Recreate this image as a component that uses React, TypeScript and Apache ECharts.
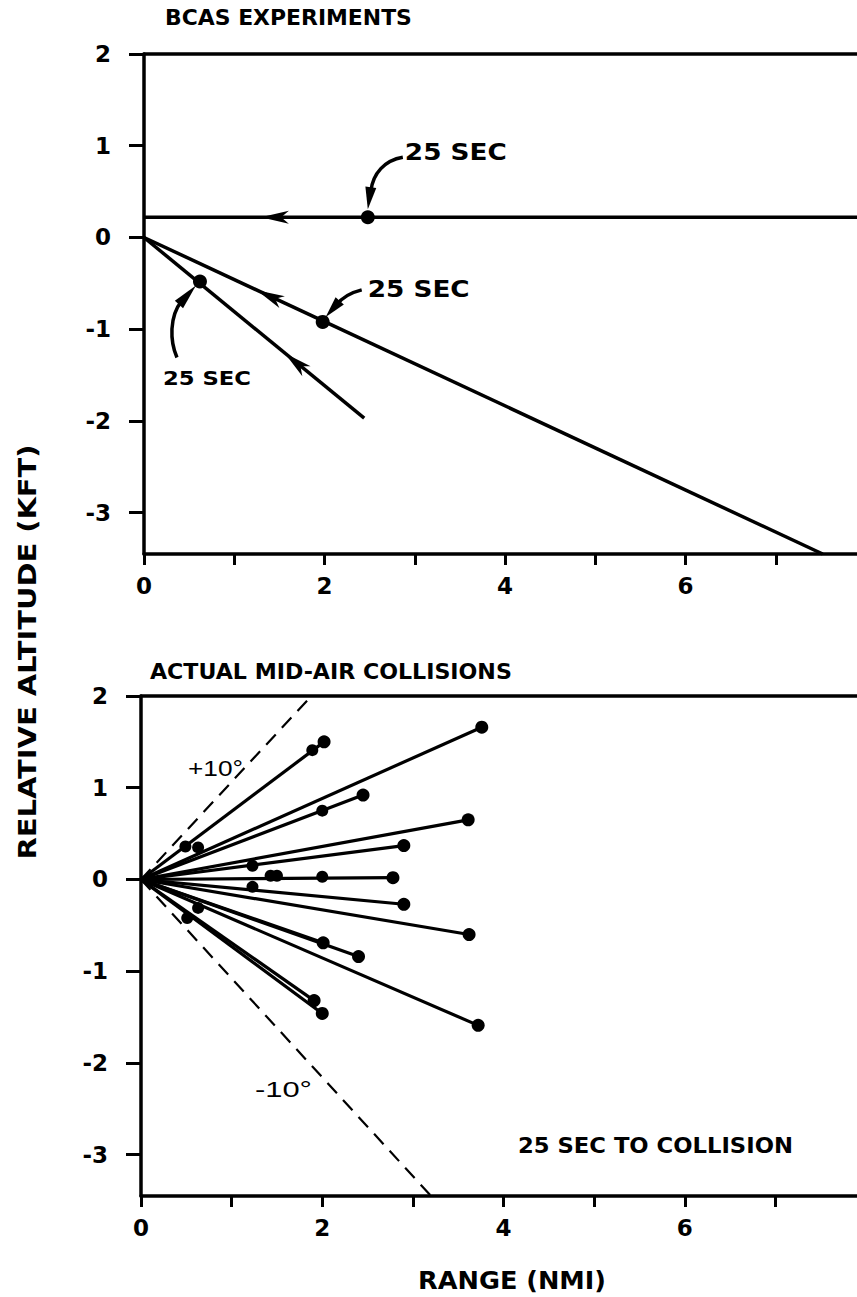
import React, { useEffect, useRef } from "react";
import * as echarts from "echarts";

// ---------- axes ----------
const xTickValues = [0, 1, 2, 3, 4, 5, 6, 7];
const xLabelValues = [0, 2, 4, 6];
const yTickValues = [2, 1, 0, -1, -2, -3];
const xMax = 7.9;
const yMin = -3.45;
const yMax = 2;

// ---------- BCAS EXPERIMENTS (top panel) ----------
const levelTrack = [[7.9, 0.22], [0, 0.22]];
const shallowTrack = [[7.52, -3.45], [0, 0]];
const steepTrack = [[2.44, -1.97], [0, 0]];
const bcasDots = [[2.48, 0.22], [1.98, -0.92], [0.62, -0.48]];
const bcasArrowAt = [[1.45, 0.22], [1.39, -0.64], [1.68, -1.36]];
const bcasArrowToward = [[0, 0.22], [0, 0], [0, 0]];
const calloutText = ["25 SEC", "25 SEC", "25 SEC"];

// ---------- ACTUAL MID-AIR COLLISIONS (bottom panel) ----------
const collisionEnds = [
  [3.76, 1.66],
  [2.02, 1.5],
  [2.45, 0.92],
  [3.61, 0.65],
  [2.9, 0.37],
  [2.78, 0.02],
  [2.9, -0.27],
  [3.62, -0.6],
  [2.01, -0.69],
  [2.4, -0.84],
  [3.72, -1.59],
  [1.91, -1.32],
  [2.0, -1.46],
];
const collisionMidDots = [
  [1.89, 1.41],
  [2.0, 0.75],
  [1.23, 0.15],
  [2.0, 0.03],
  [1.43, 0.04],
  [1.5, 0.04],
  [1.23, -0.08],
  [0.49, 0.36],
  [0.63, 0.35],
  [0.63, -0.31],
  [0.51, -0.42],
];
const plus10Line = [[0, 0], [1.88, 2]];
const minus10Line = [[0, 0], [3.2, -3.45]];

const BOLD = "DejaVu Sans";
const THIN = "Liberation Sans";

let measureCtx: CanvasRenderingContext2D | null = null;
function measure(text: string, size: number, weight: string, family: string) {
  if (!measureCtx) measureCtx = document.createElement("canvas").getContext("2d");
  measureCtx!.font = `${weight} ${size}px "${family}"`;
  return measureCtx!.measureText(text).width;
}

function stext(
  text: string,
  x: number,
  y: number,
  width: number,
  size: number,
  weight = "bold",
  family = BOLD,
  align = "left",
  rotation = 0
) {
  const w = measure(text, size, weight, family);
  return {
    type: "text",
    x,
    y,
    rotation,
    scaleX: width / w,
    z: 20,
    silent: true,
    style: {
      text,
      fill: "#000",
      fontSize: size,
      fontWeight: weight,
      fontFamily: family,
      align,
      verticalAlign: "middle",
    },
  };
}

function xAxisDef(gridIndex: number) {
  return [
    {
      gridIndex,
      type: "value",
      min: 0,
      max: xMax,
      interval: 1,
      position: "bottom",
      axisLine: { show: true, onZero: false, lineStyle: { color: "#000", width: 3.5 } },
      axisTick: {
        show: true,
        customValues: xTickValues,
        length: 11,
        lineStyle: { color: "#000", width: 3 },
      },
      axisLabel: {
        customValues: xLabelValues,
        margin: 20,
        color: "#000",
        fontSize: 23,
        fontWeight: "bold",
        fontFamily: BOLD,
      },
      splitLine: { show: false },
    },
    {
      gridIndex,
      type: "value",
      min: 0,
      max: xMax,
      position: "top",
      axisLine: { show: true, onZero: false, lineStyle: { color: "#000", width: 3.5 } },
      axisTick: { show: false },
      axisLabel: { show: false },
      splitLine: { show: false },
    },
  ];
}

function yAxisDef(gridIndex: number) {
  return {
    gridIndex,
    type: "value",
    min: yMin,
    max: yMax,
    axisLine: { show: true, onZero: false, lineStyle: { color: "#000", width: 3.5 } },
    axisTick: {
      show: true,
      customValues: yTickValues,
      length: 15,
      lineStyle: { color: "#000", width: 3 },
    },
    axisLabel: {
      customValues: yTickValues,
      margin: 33,
      color: "#000",
      fontSize: 23,
      fontWeight: "bold",
      fontFamily: BOLD,
    },
    splitLine: { show: false },
  };
}

function lineSeries(data: number[][], xi: number, yi: number, width = 3, dash: any = "solid") {
  return {
    type: "line",
    xAxisIndex: xi,
    yAxisIndex: yi,
    data,
    showSymbol: false,
    symbol: "none",
    silent: true,
    lineStyle: { color: "#000", width, type: dash, opacity: 1 },
    z: 3,
  };
}

function dotSeries(data: number[][], xi: number, yi: number, size: number) {
  return {
    type: "scatter",
    xAxisIndex: xi,
    yAxisIndex: yi,
    data,
    symbol: "circle",
    symbolSize: size,
    itemStyle: { color: "#000", opacity: 1 },
    silent: true,
    z: 5,
  };
}

export default function App() {
  const ref = useRef<HTMLDivElement>(null);
  useEffect(() => {
    if (!ref.current) return;
    const chart = echarts.init(ref.current, undefined, { renderer: "svg" });

    const series: any[] = [
      lineSeries(levelTrack, 0, 0, 3.5),
      lineSeries(shallowTrack, 0, 0, 3.5),
      lineSeries(steepTrack, 0, 0, 3.5),
      dotSeries(bcasDots, 0, 0, 14),
      lineSeries(plus10Line, 2, 1, 2.2, [14, 9]),
      lineSeries(minus10Line, 2, 1, 2.2, [14, 9]),
      ...collisionEnds.map((e) => lineSeries([[0, 0], e], 2, 1, 3.2)),
      dotSeries(collisionEnds, 2, 1, 13),
      dotSeries(collisionMidDots, 2, 1, 12),
    ];

    chart.setOption({
      animation: false,
      backgroundColor: "#fff",
      grid: [
        { left: 144, right: 0, top: 54, height: 500 },
        { left: 141, right: 0, top: 696, height: 500 },
      ],
      xAxis: [...xAxisDef(0), ...xAxisDef(1)],
      yAxis: [yAxisDef(0), yAxisDef(1)],
      series,
    });

    const px = (g: number, p: number[]) =>
      chart.convertToPixel({ gridIndex: g } as any, p) as unknown as number[];

    const graphics: any[] = [];

    // arrowheads on the BCAS tracks
    bcasArrowAt.forEach((at, i) => {
      const p = px(0, at);
      const q = px(0, bcasArrowToward[i]);
      const dx = q[0] - p[0];
      const dy = q[1] - p[1];
      const len = Math.hypot(dx, dy);
      const ux = dx / len;
      const uy = dy / len;
      const nx = -uy;
      const ny = ux;
      const L = 14;
      const Wd = 6.5;
      graphics.push({
        type: "polygon",
        z: 20,
        silent: true,
        shape: {
          points: [
            [p[0] + ux * L, p[1] + uy * L],
            [p[0] - ux * L + nx * Wd, p[1] - uy * L + ny * Wd],
            [p[0] - ux * L * 0.45, p[1] - uy * L * 0.45],
            [p[0] - ux * L - nx * Wd, p[1] - uy * L - ny * Wd],
          ],
        },
        style: { fill: "#000" },
      });
    });

    // curved "25 SEC" callouts (offsets relative to each dot)
    const callouts = [
      {
        text: [37, -65, 102, 23],
        curve: [35, -60, 17, -57, 5, -44, 3, -26],
        head: [0, -8, 3, -30],
      },
      {
        text: [45, -33, 102, 23],
        curve: [39, -32, 27, -29, 19, -24, 14, -17],
        head: [3, -5, 17, -21],
      },
      {
        text: [-37, 96, 88, 20],
        curve: [-23, 76, -30, 60, -31, 35, -18, 19],
        head: [-4, 4, -21, 23],
      },
    ];
    callouts.forEach((c, i) => {
      const d = px(0, bcasDots[i]);
      graphics.push(
        stext(calloutText[i], d[0] + c.text[0], d[1] + c.text[1], c.text[2], c.text[3])
      );
      const k = c.curve;
      graphics.push({
        type: "bezierCurve",
        z: 20,
        silent: true,
        shape: {
          x1: d[0] + k[0],
          y1: d[1] + k[1],
          cpx1: d[0] + k[2],
          cpy1: d[1] + k[3],
          cpx2: d[0] + k[4],
          cpy2: d[1] + k[5],
          x2: d[0] + k[6],
          y2: d[1] + k[7],
        },
        style: { stroke: "#000", lineWidth: 3.5, fill: null },
      });
      const tip = [d[0] + c.head[0], d[1] + c.head[1]];
      const base = [d[0] + c.head[2], d[1] + c.head[3]];
      const hx = tip[0] - base[0];
      const hy = tip[1] - base[1];
      const hl = Math.hypot(hx, hy);
      const nx = (-hy / hl) * 5.5;
      const ny = (hx / hl) * 5.5;
      graphics.push({
        type: "polygon",
        z: 20,
        silent: true,
        shape: {
          points: [
            tip,
            [base[0] + nx, base[1] + ny],
            [base[0] - nx, base[1] - ny],
          ],
        },
        style: { fill: "#000" },
      });
    });

    // panel titles and axis names
    graphics.push(stext("BCAS EXPERIMENTS", 165, 18, 247, 21));
    graphics.push(stext("ACTUAL MID-AIR COLLISIONS", 150, 672, 362, 21));
    graphics.push(stext("25 SEC TO COLLISION", 518, 1145, 275, 22));
    graphics.push(stext("RANGE (NMI)", 418, 1281, 188, 24));
    graphics.push(
      stext("RELATIVE ALTITUDE (KFT)", 27, 652, 415, 24, "bold", BOLD, "center", Math.PI / 2)
    );
    graphics.push(stext("+10°", 188, 768, 55, 22, "normal", THIN));
    graphics.push(stext("-10°", 255, 1090, 57, 22, "normal", THIN));

    chart.setOption({ graphic: graphics });

    return () => chart.dispose();
  }, []);

  return (
    <div
      ref={ref}
      style={{ position: "absolute", left: 0, top: 0, width: 857, height: 1297, background: "#fff" }}
    />
  );
}
